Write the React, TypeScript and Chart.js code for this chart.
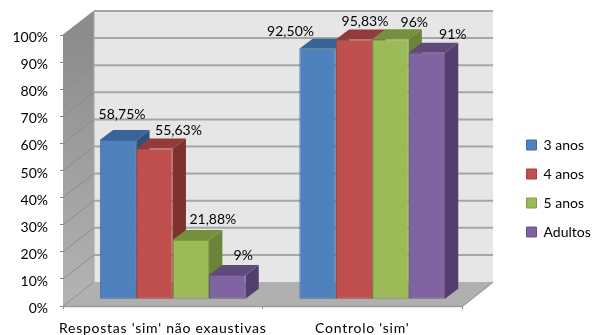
import React, { useEffect, useRef } from "react";
import { Chart, registerables } from "chart.js";

Chart.register(...registerables);

const categories = ["Respostas 'sim' não exaustivas", "Controlo 'sim'"];
const seriesNames = ["3 anos", "4 anos", "5 anos", "Adultos"];
const anos3 = [58.75, 92.5];
const anos4 = [55.63, 95.83];
const anos5 = [21.88, 96];
const adultos = [9, 91];
const valueLabels = [
  ["58,75%", "92,50%"],
  ["55,63%", "95,83%"],
  ["21,88%", "96%"],
  ["9%", "91%"],
];
const yTicks = [0, 10, 20, 30, 40, 50, 60, 70, 80, 90, 100];

const FONT = "Lato";
const FACE = ["#4F81BD", "#C0504D", "#9BBB59", "#8064A2"];
const EDGE = ["#3F6CA3", "#A5413E", "#7F9C45", "#6A5288"];
const TOP = ["#3A6496", "#923B39", "#76903F", "#604A7B"];
const SIDE = ["#2F5280", "#7E3230", "#6B8437", "#533E6E"];

// Shift of the box walls and of the bar plane from the front axis plane.
const WALL_DX = 31;
const WALL_DY = -24;
const BAR_DX = 9.9;
const BAR_DY = -6.7;
const DEPTH_DX = 13.3;
const DEPTH_DY = -10;

// Label offsets from the top centre of each bar's front face.
const labelOffsets = [
  [[4, -26], [-27, -17]],
  [[24, -18], [11, -18]],
  [[22, -21], [24, -17]],
  [[16, -19], [26, -18]],
];

const poly = (ctx: CanvasRenderingContext2D, pts: number[][], fill: any) => {
  ctx.beginPath();
  pts.forEach(([x, y], i) => (i ? ctx.lineTo(x, y) : ctx.moveTo(x, y)));
  ctx.closePath();
  ctx.fillStyle = fill;
  ctx.fill();
};

// Runs a scale's label drawing inside a small canvas state change.
const wrapLabels = (scale: any, ctx: any, setup: () => void) => {
  if (scale.__wrapped) return;
  scale.__wrapped = true;
  const draw = scale.drawLabels.bind(scale);
  scale.drawLabels = (area: any) => {
    ctx.save();
    setup();
    draw(area);
    ctx.restore();
  };
};

const box3d = {
  id: "box3d",
  afterLayout(chart: any) {
    const legend = chart.legend;
    legend.left = 511.5;
    legend.right = 593;
    legend.top = 123;
    legend.bottom = 335;
    const { ctx, scales } = chart;
    wrapLabels(scales.x, ctx, () => {
      ctx.letterSpacing = "0.75px";
    });
    wrapLabels(scales.y, ctx, () => {
      ctx.translate(0, 2.5);
    });
  },
  beforeDatasetsDraw(chart: any) {
    const { ctx, chartArea: a, scales } = chart;
    const y = scales.y;
    const x0 = a.left;
    const x1 = a.right;
    const y0 = y.getPixelForValue(0);
    const y100 = y.getPixelForValue(100);

    ctx.save();
    // back wall
    poly(ctx, [[x0 + WALL_DX, y100 + WALL_DY], [x1 + WALL_DX, y100 + WALL_DY], [x1 + WALL_DX, y0 + WALL_DY], [x0 + WALL_DX, y0 + WALL_DY]], "#E6E6E6");
    // side wall
    const wall = ctx.createLinearGradient(0, y100, 0, y0);
    wall.addColorStop(0, "#8C8C8C");
    wall.addColorStop(1, "#B4B4B4");
    poly(ctx, [[x0, y100], [x0 + WALL_DX, y100 + WALL_DY], [x0 + WALL_DX, y0 + WALL_DY], [x0, y0]], wall);
    // floor
    poly(ctx, [[x0, y0], [x0 + WALL_DX, y0 + WALL_DY], [x1 + WALL_DX, y0 + WALL_DY], [x1, y0]], "#B0B0B0");

    // grid lines across both walls
    yTicks.forEach((v) => {
      const py = y.getPixelForValue(v);
      ctx.beginPath();
      ctx.moveTo(x0, py);
      ctx.lineTo(x0 + WALL_DX, py + WALL_DY);
      ctx.strokeStyle = "#8C8C8C";
      ctx.lineWidth = 1;
      ctx.stroke();
      if (v > 0) {
        ctx.beginPath();
        ctx.moveTo(x0 + WALL_DX, py + WALL_DY);
        ctx.lineTo(x1 + WALL_DX, py + WALL_DY);
        ctx.strokeStyle = "#A6A6A6";
        ctx.lineWidth = 2;
        ctx.stroke();
      }
    });

    // vertical edge of the far corner and lower front edges
    ctx.strokeStyle = "#A6A6A6";
    ctx.lineWidth = 1;
    ctx.beginPath();
    ctx.moveTo(x0 + WALL_DX, y100 + WALL_DY);
    ctx.lineTo(x0 + WALL_DX, y0 + WALL_DY);
    ctx.stroke();
    ctx.beginPath();
    ctx.moveTo(x0, y0 + 0.5);
    ctx.lineTo(x1, y0 + 0.5);
    ctx.lineTo(x1 + WALL_DX, y0 + WALL_DY);
    ctx.strokeStyle = "#9A9A9A";
    ctx.lineWidth = 1.5;
    ctx.stroke();
    ctx.restore();

    // bars: the faces are drawn by the library, shifted into the bar plane
    ctx.save();
    ctx.translate(BAR_DX, BAR_DY);
    const count = chart.data.labels.length;
    for (let c = 0; c < count; c++) {
      chart.data.datasets.forEach((_: any, d: number) => {
        const bar = chart.getDatasetMeta(d).data[c];
        const left = bar.x - bar.width / 2;
        const right = bar.x + bar.width / 2;
        poly(ctx, [[right, bar.y], [right + DEPTH_DX, bar.y + DEPTH_DY], [right + DEPTH_DX, bar.base + DEPTH_DY], [right, bar.base]], SIDE[d]);
        poly(ctx, [[left, bar.y], [left + DEPTH_DX, bar.y + DEPTH_DY], [right + DEPTH_DX, bar.y + DEPTH_DY], [right, bar.y]], TOP[d]);
      });
    }
  },
  afterDatasetsDraw(chart: any) {
    const { ctx } = chart;
    ctx.restore();
    ctx.save();
    ctx.font = `14px ${FONT}`;
    ctx.fillStyle = "#000";
    ctx.textAlign = "center";
    ctx.textBaseline = "middle";
    chart.data.datasets.forEach((_: any, d: number) => {
      chart.getDatasetMeta(d).data.forEach((bar: any, c: number) => {
        const [ox, oy] = labelOffsets[d][c];
        ctx.fillText(valueLabels[d][c], bar.x + BAR_DX + ox, bar.y + BAR_DY + oy);
      });
    });
    ctx.restore();
  },
};

export default function App() {
  const ref = useRef<HTMLCanvasElement>(null);

  useEffect(() => {
    const values = [anos3, anos4, anos5, adultos];
    const chart = new Chart(ref.current as HTMLCanvasElement, {
      type: "bar",
      data: {
        labels: categories,
        datasets: seriesNames.map((label, i) => ({
          label,
          data: values[i],
          backgroundColor: FACE[i],
          borderColor: EDGE[i],
          borderWidth: 1,
          borderSkipped: false,
          categoryPercentage: 0.73,
          barPercentage: 1,
        })),
      },
      options: {
        responsive: false,
        animation: false,
        events: [],
        layout: { padding: { left: 0, top: 35, right: 131, bottom: 0 } },
        scales: {
          x: {
            afterFit: (s: any) => {
              s.height = 29;
            },
            border: { display: false },
            grid: { drawOnChartArea: false, tickLength: 3, color: "#868686" },
            ticks: {
              font: { family: FONT, size: 14 },
              color: "#000",
              padding: 11,
              maxRotation: 0,
              autoSkip: false,
            },
          },
          y: {
            min: 0,
            max: 100,
            afterFit: (s: any) => {
              s.width = 63;
            },
            afterBuildTicks: (s: any) => {
              s.ticks = yTicks.map((value) => ({ value }));
            },
            border: { display: false },
            grid: { drawOnChartArea: false, tickLength: 3, color: "#868686" },
            ticks: {
              font: { family: FONT, size: 14 },
              color: "#000",
              padding: 12,
              callback: (v: any) => `${v}%`,
            },
          },
        },
        plugins: {
          tooltip: { enabled: false },
          title: { display: false },
          legend: {
            position: "chartArea",
            align: "start",
            labels: {
              boxWidth: 10,
              boxHeight: 10,
              padding: 15,
              color: "#000",
              font: { family: FONT, size: 14 },
            },
          },
        },
      },
      plugins: [box3d],
    } as any);
    return () => chart.destroy();
  }, []);

  return (
    <canvas
      ref={ref}
      width={593}
      height={335}
      style={{ position: "fixed", left: 0, top: 0, display: "block" }}
    />
  );
}
